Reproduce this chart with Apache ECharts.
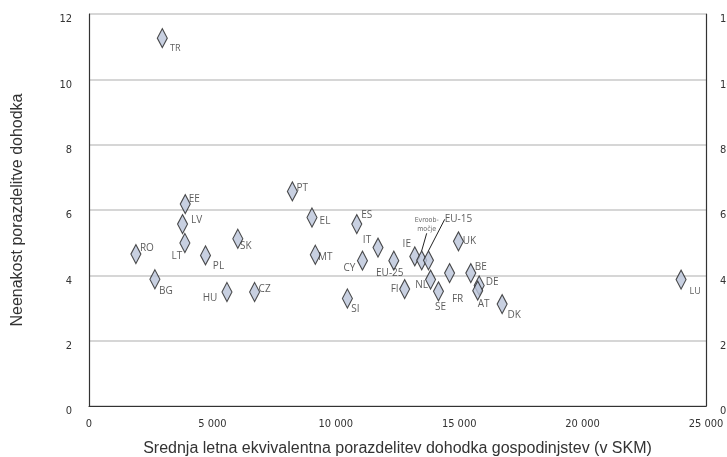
<!DOCTYPE html>
<html>
<head>
<meta charset="utf-8">
<script src="https://cdn.jsdelivr.net/npm/echarts@6/dist/echarts.min.js"></script>
<style>html,body{margin:0;padding:0;background:#fff;overflow:hidden;width:727px;height:457px;}#c{position:absolute;left:0;top:0;width:727px;height:457px;}</style>
</head>
<body>
<div id="c"></div>
<script>
const countries = ['TR','EE','LV','LT','RO','PL','BG','SK','HU','CZ','PT','EL','ES','IT','MT','CY','EU-25','FI','SI','IE','Evroobmočje','EU-15','UK','NL','SE','FR','BE','DE','AT','DK','LU'];
const income = [2970,3900,3790,3885,1900,4720,2670,6030,5590,6710,8240,9035,10850,11710,9170,11080,12350,12790,10470,13200,13480,13755,14970,13840,14160,14610,15470,15810,15750,16740,23990];
const inequality = [11.26,6.18,5.57,4.99,4.65,4.61,3.88,5.12,3.49,3.49,6.57,5.77,5.57,4.85,4.63,4.45,4.45,3.58,3.29,4.58,4.46,4.46,5.04,3.87,3.51,4.07,4.07,3.69,3.53,3.12,3.87];
const xTicks = [0,5000,10000,15000,20000,25000];
const yTicks = [0,2,4,6,8,10,12];

// label placement (layout only)
const labelShift = {
  'TR':[13,10],'EE':[9,-5],'LV':[14,-4],'LT':[-8,13],'RO':[11,-6],'PL':[13,11],'BG':[11,12],
  'SK':[8,7],'HU':[-17,6],'CZ':[10,-3],'PT':[10,-3],'EL':[13,4],'ES':[10,-9],'IT':[-11,-7],
  'MT':[10,2],'CY':[-13,8],'EU-25':[-4,13],'FI':[-10,0],'SI':[8,11],'IE':[-8,-12],
  'Evroobmočje':[5,-36],'EU-15':[30,-41],'UK':[11,0],'NL':[-9,6],'SE':[2,16],'FR':[8,26],
  'BE':[10,-6],'DE':[13,-3],'AT':[6,13],'DK':[12,11],'LU':[14,12]
};
const smallLabels = ['TR','LU'];
const leaderLabels = ['Evroobmočje','EU-15'];

const data = countries.map((c,i)=>{
  const item = {name:c, value:[income[i], inequality[i]]};
  if (c === 'Evroobmočje') {
    item.label = {formatter:'Evroob-\nmočje', fontFamily:'"DejaVu Sans Condensed","Liberation Sans Narrow",sans-serif', fontSize:7, lineHeight:9, color:'#444'};
  } else if (smallLabels.includes(c)) {
    item.label = {fontSize:9};
  }
  if (leaderLabels.includes(c)) {
    item.labelLine = {show:true, lineStyle:{color:'#222', width:1}};
  }
  return item;
});

const fmt = v => v === 0 ? '0' : String(v).replace(/\B(?=(\d{3})+(?!\d))/g, ' ');
const tickFont = '"Liberation Sans Narrow","DejaVu Sans Condensed",sans-serif';

const chart = echarts.init(document.getElementById('c'), null, {renderer:'canvas', width:727, height:457});
chart.setOption({
  animation:false,
  backgroundColor:'#fff',
  grid:{left:89, right:21, top:14, bottom:51, containLabel:false, outerBoundsMode:'none'},
  xAxis:{
    type:'value', min:xTicks[0], max:xTicks[xTicks.length-1], interval:5000,
    axisLine:{show:true, lineStyle:{color:'#333', width:1.2}},
    axisTick:{show:false},
    splitLine:{show:false},
    axisLabel:{formatter:fmt, color:'#333', fontFamily:tickFont, fontSize:11, margin:13},
    name:'Srednja letna ekvivalentna porazdelitev dohodka gospodinjstev (v SKM)',
    nameLocation:'middle', nameGap:35,
    nameTextStyle:{color:'#333', fontFamily:'"Liberation Sans",Arial,sans-serif', fontSize:16}
  },
  yAxis:[{
    type:'value', min:yTicks[0], max:yTicks[yTicks.length-1], interval:2, position:'left',
    axisLine:{show:true, lineStyle:{color:'#333', width:1.2}},
    axisTick:{show:false},
    splitLine:{show:true, lineStyle:{color:'#c8c8c8', width:1.5}},
    axisLabel:{color:'#333', fontFamily:tickFont, fontSize:11, margin:17, verticalAlign:'top'},
    name:'Neenakost porazdelitve dohodka', nameLocation:'middle', nameGap:63,
    nameTextStyle:{color:'#333', fontFamily:'"Liberation Sans",Arial,sans-serif', fontSize:16}
  },{
    type:'value', min:yTicks[0], max:yTicks[yTicks.length-1], interval:2, position:'right',
    axisLine:{show:true, onZero:false, lineStyle:{color:'#333', width:1.2}},
    axisTick:{show:false},
    splitLine:{show:false},
    axisLabel:{color:'#333', fontFamily:tickFont, fontSize:11, margin:14, verticalAlign:'top'}
  }],
  series:[{
    type:'scatter',
    symbol:'diamond',
    symbolSize:[10,19],
    itemStyle:{color:'#bac4d9', borderColor:'#222', borderWidth:1.2},
    label:{show:true, position:'inside', formatter:'{b}', color:'#333',
      fontFamily:'"Open Sans","Noto Sans",sans-serif', fontSize:10, align:'center', verticalAlign:'middle'},
    labelLine:{show:false},
    labelLayout:function(p){
      const s = labelShift[countries[p.dataIndex]] || [0,0];
      return {dx:s[0], dy:s[1]};
    },
    data:data
  }]
});
</script>
</body>
</html>
